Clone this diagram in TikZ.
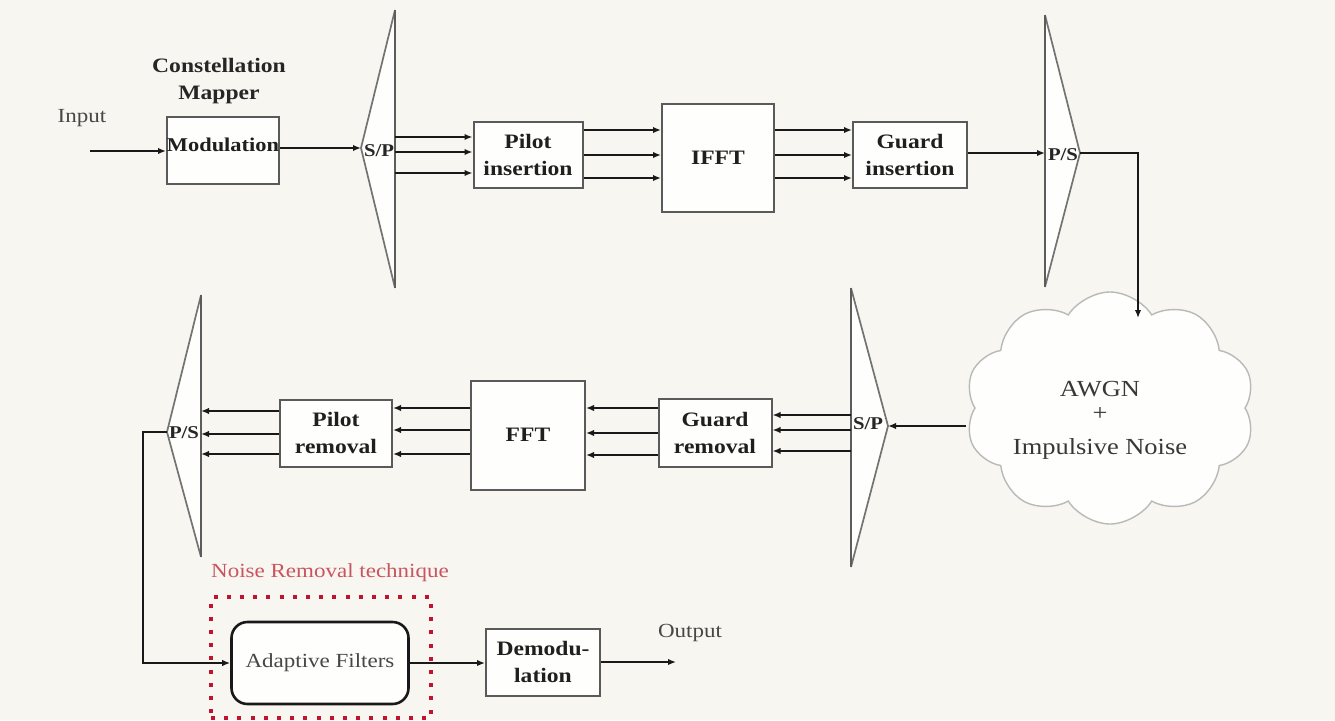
\documentclass[tikz,border=0pt]{standalone}
\usepackage{fontspec}
\setmainfont{Liberation Serif}[FakeStretch=1.15]
\usetikzlibrary{arrows.meta,shapes.symbols}
\definecolor{bgc}{RGB}{248,246,241}
\definecolor{boxfill}{RGB}{254,254,253}
\definecolor{boxline}{RGB}{90,90,90}
\definecolor{wire}{RGB}{25,25,25}
\definecolor{trigrey}{RGB}{115,115,115}
\definecolor{noisered}{RGB}{200,85,95}
\definecolor{dotred}{RGB}{190,20,45}
\definecolor{cloudline}{RGB}{185,185,185}
\newcommand\boldlbl{\fontsize{20.5}{27}\selectfont\bfseries}
\newcommand\reglbl{\fontsize{20}{24}\selectfont}
\newcommand\cloudfnt{\fontsize{23}{28}\selectfont}
\tikzset{
  blk/.style={draw=boxline, line width=2pt, fill=boxfill, align=center,
    font=\boldlbl, text=black!88, inner sep=0pt},
  wireline/.style={draw=wire, line width=2.7pt},
  arr/.style={wireline, -{Latex[length=8pt,width=6.5pt]}},
  trivert/.style={draw=trigrey!80!black, line width=2.4pt},
  triside/.style={draw=trigrey, line width=1.7pt},
  trifill/.style={fill=boxfill},
  spl/.style={font=\fontsize{18}{20}\selectfont\bfseries, text=black!85, inner sep=0pt},
  plain/.style={font=\reglbl, inner sep=0pt},
  cloudlbl/.style={font=\cloudfnt, text=black!78, inner sep=0pt}
}
\begin{document}
\begin{tikzpicture}[x=1pt,y=-1pt]
\fill[bgc] (0,0) rectangle (1335,720);
\useasboundingbox (0,0) rectangle (1335,720);

% ---------- triangles ----------
% S/P top
\coordinate (spAtop) at (395,10); \coordinate (spAbot) at (395,288); \coordinate (spAtip) at (361,148);
\fill[trifill] (spAtop) -- (spAtip) -- (spAbot) -- cycle;
\draw[triside] (spAtop) -- (spAtip) -- (spAbot);
\draw[trivert] (spAtop) -- (spAbot);
\node[spl] (spAlbl) at (379,151) {S/P};
% P/S top
\coordinate (psAtop) at (1045,15); \coordinate (psAbot) at (1045,287); \coordinate (psAtip) at (1080,153);
\fill[trifill] (psAtop) -- (psAtip) -- (psAbot) -- cycle;
\draw[triside] (psAtop) -- (psAtip) -- (psAbot);
\draw[trivert] (psAtop) -- (psAbot);
\node[spl] (psAlbl) at (1063,155) {P/S};
% S/P bottom
\coordinate (spBtop) at (851,288); \coordinate (spBbot) at (851,567); \coordinate (spBtip) at (888,426);
\fill[trifill] (spBtop) -- (spBtip) -- (spBbot) -- cycle;
\draw[triside] (spBtop) -- (spBtip) -- (spBbot);
\draw[trivert] (spBtop) -- (spBbot);
\node[spl] (spBlbl) at (868,424) {S/P};
% P/S bottom
\coordinate (psBtop) at (201,295); \coordinate (psBbot) at (201,557); \coordinate (psBtip) at (167,432);
\fill[trifill] (psBtop) -- (psBtip) -- (psBbot) -- cycle;
\draw[triside] (psBtop) -- (psBtip) -- (psBbot);
\draw[trivert] (psBtop) -- (psBbot);
\node[spl] (psBlbl) at (184,433) {P/S};

% ---------- blocks ----------
\node[blk, minimum width=112, minimum height=67] (mod) at (223,150) {};
\node[font=\fontsize{19.5}{24}\selectfont\bfseries, text=black!88, inner sep=0pt] (modtxt) at (223,145) {Modulation};
\node[blk, minimum width=109, minimum height=66] (pilot) at (528,155) {Pilot\\insertion};
\node[blk, minimum width=112, minimum height=108] (ifft) at (718,158) {IFFT};
\node[blk, minimum width=114, minimum height=66] (guard) at (910,155) {Guard\\insertion};
\node[blk, minimum width=112, minimum height=67] (pilotr) at (336,433) {Pilot\\removal};
\node[blk, minimum width=114, minimum height=109] (fft) at (528,435) {FFT};
\node[blk, minimum width=113, minimum height=68] (guardr) at (715,433) {Guard\\removal};
\node[blk, minimum width=114, minimum height=67] (demod) at (543,662) {Demodu-\\lation};
\node[draw=wire, line width=2.6pt, fill=boxfill, rounded corners=16pt,
  minimum width=177, minimum height=82, font=\reglbl, text=black!72] (adapt) at (320,663) {Adaptive Filters};

\node[cloud, cloud puffs=10, cloud puff arc=115, aspect=1.3, draw=cloudline,
  line width=1.4pt, fill=boxfill, minimum width=290, minimum height=232,
  inner sep=0pt] (cloud) at (1110,408) {};
\node[cloudlbl] (awgn) at (1100,389) {AWGN};
\node[cloudlbl] (plus) at (1100,414) {+};
\node[cloudlbl] (impn) at (1100,449) {Impulsive Noise};

% dotted technique box
\node[draw=dotred, line width=4pt, dash pattern=on 4pt off 9.2pt,
  minimum width=220, minimum height=121, inner sep=0pt] (tech) at (321,657.5) {};

% ---------- text labels ----------
\node[plain, text=black!72] (input) at (82,118) {Input};
\node[plain, text=black!72] (output) at (690,633) {Output};
\node[font=\boldlbl, align=center, text=black!85] (const) at (219,81) {Constellation\\Mapper};
\node[plain, text=noisered, anchor=west] (noisetxt) at (211,573) {Noise Removal technique};

% ---------- connectors ----------
\coordinate (inpt) at (90,151);
\draw[arr] (inpt) -- (mod.west |- inpt);
\draw[arr] (mod.east |- spAtip) -- (spAtip);
\foreach \yy in {137,152,173} \draw[arr] (spAtop |- 0,\yy) -- (pilot.west |- 0,\yy);
\foreach \yy in {130,155,178} \draw[arr] (pilot.east |- 0,\yy) -- (ifft.west |- 0,\yy);
\foreach \yy in {130,155,178} \draw[arr] (ifft.east |- 0,\yy) -- (guard.west |- 0,\yy);
\draw[arr] (guard.east |- psAtip) -- (psAtop |- psAtip);
\coordinate (cloudin) at (1138,318);
\draw[arr] (psAtip) -| (cloudin);
\coordinate (cloudout) at (966,426);
\draw[arr] (cloudout) -- (spBtip);
\foreach \yy in {415,430,451} \draw[arr] (spBtop |- 0,\yy) -- (guardr.east |- 0,\yy);
\foreach \yy in {408,433,455} \draw[arr] (guardr.west |- 0,\yy) -- (fft.east |- 0,\yy);
\foreach \yy in {408,430,454} \draw[arr] (fft.west |- 0,\yy) -- (pilotr.east |- 0,\yy);
\foreach \yy in {411,434,454} \draw[arr] (pilotr.west |- 0,\yy) -- (psBtop |- 0,\yy);
\coordinate (bend) at (143,432);
\draw[arr] (psBtip) -- (bend) |- (adapt.west);
\draw[arr] (adapt.east) -- (demod.west |- adapt.east);
\coordinate (outpt) at (676,662);
\draw[arr] (demod.east |- outpt) -- (outpt);
\end{tikzpicture}
\end{document}
